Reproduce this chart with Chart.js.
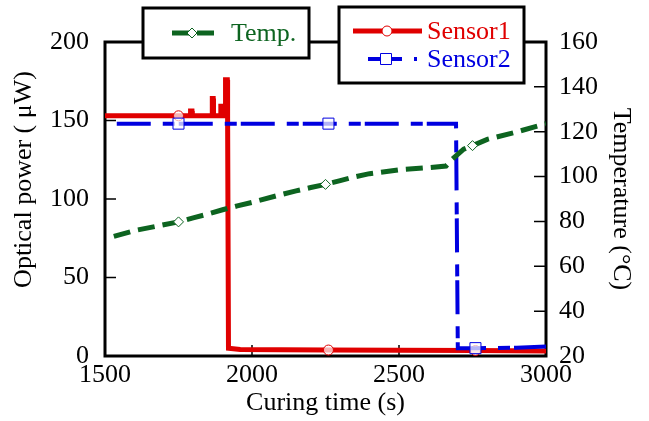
<!DOCTYPE html>
<html lang="en">
<head>
<meta charset="UTF-8">
<title>Optical power and temperature during curing</title>
<script src="https://cdn.jsdelivr.net/npm/chart.js"></script>
<style>
    body { margin: 0; background: #fff; }
    #wrap { width: 649px; height: 421px; }
</style>
</head>
<body>
<div id="wrap"><canvas id="curingChart" width="649" height="421"></canvas></div>
<script>
    // Sensor1 optical power (uW) vs curing time (s)
    const sensor1Time  = [1500, 1750, 1790, 1791, 1796, 1797, 1864, 1865, 1868, 1869, 1893, 1894, 1899, 1900, 1909, 1910, 1916, 1917, 1920, 1960, 2100, 2260, 2500, 2760, 3000];
    const sensor1Power = [153, 153, 153, 156, 156, 153, 153, 164, 164, 153, 153, 159, 159, 153, 153, 176, 176, 153, 5, 4.2, 4, 3.8, 3.6, 3.5, 3.2];

    // Sensor2 optical power (uW)
    const sensor2Time  = [1540, 1750, 2260, 2694, 2700, 2760, 2900, 3000];
    const sensor2Power = [148, 148, 148, 148, 5, 5, 5.3, 6];

    // Temperature (degC), right axis
    const tempTime  = [1530, 1600, 1700, 1750, 1800, 1850, 1900, 1950, 2000, 2100, 2150, 2200, 2250, 2300, 2350, 2400, 2500, 2600, 2660, 2680, 2720, 2750, 2800, 2900, 3000];
    const tempValue = [73.3, 75.9, 78.5, 79.8, 81.6, 83.3, 85.2, 86.9, 88.5, 92.0, 93.6, 95.1, 96.5, 98.2, 99.9, 101.3, 103.0, 104.0, 104.7, 107.6, 112.2, 113.8, 116.6, 119.9, 123.6];

    // times carrying the hollow markers
    const sensorMarks = [1750, 2260, 2760];
    const tempMarks = [1750, 2250, 2750];

    // tick labels
    const timeTicks = [1500, 2000, 2500, 3000];
    const powerTicks = [0, 50, 100, 150, 200];
    const tempTicks = [20, 40, 60, 80, 100, 120, 140, 160];

    const RED = '#e00000';
    const BLUE = '#0000e0';
    const GREEN = '#0d6420';
    const FONT = { family: '"Liberation Serif", "Times New Roman", serif', size: 26 };

    function toPoints(xs, ys) {
        return xs.map((x, i) => ({ x: x, y: ys[i] }));
    }

    function markRadius(marks, r) {
        return ctx => (ctx.raw && marks.includes(ctx.raw.x)) ? r : 0;
    }

    // frame around the plot and inward tick marks
    const frameTicks = {
        id: 'frameTicks',
        beforeDatasetsDraw(chart) {
            const { ctx, chartArea: a, scales } = chart;
            ctx.save();
            ctx.strokeStyle = '#000';
            ctx.lineWidth = 1.5;
            ctx.beginPath();
            scales.x.ticks.forEach(t => {
                const p = scales.x.getPixelForValue(t.value);
                if (p <= a.left + 2 || p >= a.right - 2) return;
                ctx.moveTo(p, a.bottom); ctx.lineTo(p, a.bottom - 11);
            });
            scales.y.ticks.forEach(t => {
                const p = scales.y.getPixelForValue(t.value);
                if (p <= a.top + 2 || p >= a.bottom - 2) return;
                ctx.moveTo(a.left, p); ctx.lineTo(a.left + 11, p);
            });
            scales.y2.ticks.forEach(t => {
                const p = scales.y2.getPixelForValue(t.value);
                if (p <= a.top + 2 || p >= a.bottom - 2) return;
                ctx.moveTo(a.right, p); ctx.lineTo(a.right - 12, p);
            });
            ctx.stroke();
            ctx.lineWidth = 3;
            ctx.strokeRect(a.left, a.top, a.right - a.left, a.bottom - a.top);
            ctx.restore();
        }
    };

    function drawMarker(ctx, style, x, y, color) {
        ctx.save();
        ctx.setLineDash([]);
        ctx.lineWidth = 1;
        ctx.strokeStyle = color;
        ctx.fillStyle = '#fff';
        ctx.beginPath();
        if (style === 'circle') {
            ctx.arc(x, y, 5, 0, Math.PI * 2);
        } else if (style === 'rect') {
            ctx.rect(x - 5.5, y - 5.5, 11, 11);
        } else {
            ctx.moveTo(x, y - 5); ctx.lineTo(x + 5, y); ctx.lineTo(x, y + 5); ctx.lineTo(x - 5, y); ctx.closePath();
        }
        ctx.fill();
        ctx.stroke();
        ctx.restore();
    }

    // two boxed legends sitting on the top edge of the frame
    const boxLegends = {
        id: 'boxLegends',
        afterDraw(chart) {
            const ctx = chart.ctx;
            const ds = chart.data.datasets;
            const boxes = [
                { x: 143, y: 8, w: 166, h: 50, items: [{ d: ds[0], x0: 172, x1: 222, mx: 192, y: 33, tx: 231 }] },
                { x: 339, y: 7, w: 185, h: 76, items: [
                    { d: ds[2], x0: 353, x1: 422, mx: 387, y: 31, tx: 427 },
                    { d: ds[1], x0: 368, x1: 417, mx: 386, y: 59, tx: 427 }
                ] }
            ];
            ctx.save();
            boxes.forEach(b => {
                ctx.fillStyle = '#fff';
                ctx.fillRect(b.x, b.y, b.w, b.h);
                ctx.strokeStyle = '#000';
                ctx.lineWidth = 3;
                ctx.setLineDash([]);
                ctx.strokeRect(b.x, b.y, b.w, b.h);
                b.items.forEach(it => {
                    ctx.strokeStyle = it.d.borderColor;
                    ctx.lineWidth = it.d.borderWidth;
                    ctx.setLineDash(it.d.borderDash || []);
                    ctx.beginPath();
                    ctx.moveTo(it.x0, it.y); ctx.lineTo(it.x1, it.y);
                    ctx.stroke();
                    drawMarker(ctx, it.d.pointStyle, it.mx, it.y, it.d.borderColor);
                    ctx.setLineDash([]);
                    ctx.fillStyle = it.d.borderColor;
                    ctx.font = FONT.size + 'px ' + FONT.family;
                    ctx.textBaseline = 'middle';
                    ctx.textAlign = 'left';
                    ctx.fillText(it.d.label, it.tx, it.y + 1);
                });
            });
            ctx.restore();
        }
    };

    const plainLabel = v => String(v);

    const ctx = document.getElementById('curingChart').getContext('2d');
    const curingChart = new Chart(ctx, {
        type: 'line',
        data: {
            datasets: [{
                label: 'Temp.',
                data: toPoints(tempTime, tempValue),
                yAxisID: 'y2',
                borderColor: GREEN,
                borderWidth: 5,
                borderDash: [17, 8],
                pointStyle: 'rectRot',
                pointRadius: markRadius(tempMarks, 5),
                pointBorderWidth: 1,
                pointBackgroundColor: '#fff',
                pointBorderColor: GREEN
            }, {
                label: 'Sensor2',
                data: toPoints(sensor2Time, sensor2Power),
                yAxisID: 'y',
                borderColor: BLUE,
                borderWidth: 4,
                borderDash: [34, 12, 12, 4],
                pointStyle: 'rect',
                pointRadius: markRadius(sensorMarks, 7.8),
                pointBorderWidth: 1,
                pointBackgroundColor: 'rgba(255,255,255,0.7)',
                pointBorderColor: BLUE
            }, {
                label: 'Sensor1',
                data: toPoints(sensor1Time, sensor1Power),
                yAxisID: 'y',
                borderColor: RED,
                borderWidth: 5,
                pointStyle: 'circle',
                pointRadius: markRadius(sensorMarks, 5),
                pointBorderWidth: 1,
                pointBackgroundColor: 'rgba(255,255,255,0.7)',
                pointBorderColor: RED
            }]
        },
        options: {
            responsive: false,
            animation: false,
            devicePixelRatio: 1,
            layout: { padding: { top: 42, left: 0, right: 0, bottom: 0 } },
            elements: { line: { tension: 0, fill: false } },
            plugins: { legend: { display: false }, tooltip: { enabled: false } },
            scales: {
                x: {
                    type: 'linear',
                    min: 1500, max: 3000,
                    afterBuildTicks: s => { s.ticks = timeTicks.map(v => ({ value: v })); },
                    afterFit: s => { s.height = 65; },
                    grid: { display: false, drawTicks: false },
                    border: { display: false },
                    ticks: { color: '#000', font: FONT, padding: 4, maxRotation: 0, callback: plainLabel },
                    title: { display: true, text: 'Curing time (s)', color: '#000', font: FONT, padding: { top: 0, bottom: 2 } }
                },
                y: {
                    position: 'left',
                    min: 0, max: 200,
                    afterBuildTicks: s => { s.ticks = powerTicks.map(v => ({ value: v })); },
                    afterFit: s => { s.width = 105; },
                    grid: { display: false, drawTicks: false },
                    border: { display: false },
                    ticks: { color: '#000', font: FONT, padding: 16, callback: plainLabel },
                    // leading spaces lift the centred title like in the original figure
                    title: { display: true, text: '\u00a0'.repeat(6) + 'Optical power ( μW)', color: '#000', font: FONT, padding: { top: 9, bottom: 0 } }
                },
                y2: {
                    position: 'right',
                    min: 20, max: 160,
                    afterBuildTicks: s => { s.ticks = tempTicks.map(v => ({ value: v })); },
                    afterFit: s => { s.width = 103; },
                    grid: { display: false, drawTicks: false },
                    border: { display: false },
                    ticks: { color: '#000', font: FONT, padding: 13, callback: plainLabel },
                    title: { display: true, text: 'Temperature (°C)', color: '#000', font: FONT, padding: { top: 13, bottom: 0 } }
                }
            }
        },
        plugins: [frameTicks, boxLegends]
    });
</script>
</body>
</html>
